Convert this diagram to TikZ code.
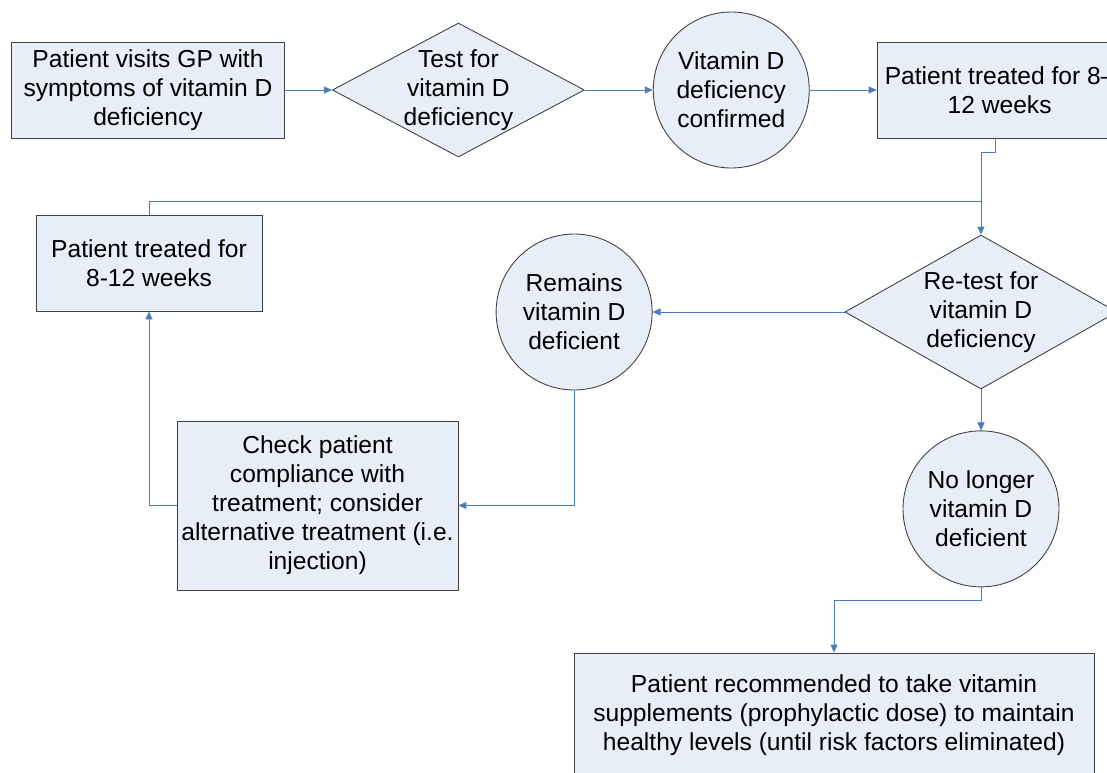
\documentclass[tikz,border=0pt]{standalone}
\usepackage{fontspec}
\setmainfont{Liberation Sans}
\usetikzlibrary{arrows.meta,positioning,shapes.geometric}
\definecolor{vdfill}{RGB}{232,238,247}
\definecolor{vdline}{RGB}{74,126,187}

\begin{document}
\begin{tikzpicture}[node distance=0.94cm, >={Triangle[length=1.6mm,width=1.4mm]}, font=\fontsize{14}{16.5}\selectfont,
  box/.style={draw=black!75, line width=0.5pt, fill=vdfill, align=center, inner sep=0pt},
  decision/.style={box, diamond, aspect=1.9, inner sep=-0.1cm},
  state/.style={box, circle, minimum size=3.12cm},
  conn/.style={draw=vdline, line width=0.55pt}]
  \useasboundingbox (0,0) rectangle (22.14,-15.44);
  \node[box, minimum width=5.46cm, minimum height=1.92cm] (visit) at (2.96,-1.80) {Patient visits GP with\\symptoms of vitamin D\\deficiency};
  \node[decision, minimum width=5.04cm, minimum height=2.68cm, right=0.94cm of visit] (test) {Test for\\vitamin D\\deficiency};
  \node[state, right=1.36cm of test] (confirmed) {Vitamin D\\deficiency\\confirmed};
  \node[box, minimum width=4.9cm, minimum height=1.92cm, right=1.34cm of confirmed] (treatA) {Patient treated for 8--\\12 weeks};
  \node[decision, minimum width=5.44cm, minimum height=3.08cm] (retest) at (19.62,-6.24) {Re-test for\\vitamin D\\deficiency};
  \node[state, left=3.84cm of retest] (remains) {Remains\\vitamin D\\deficient};
  \node[box, minimum width=4.52cm, minimum height=1.92cm] (treatB) at (2.98,-5.26) {Patient treated for\\8-12 weeks};
  \node[box, minimum width=5.62cm, minimum height=3.38cm] (check) at (6.35,-10.11) {Check patient\\compliance with\\treatment; consider\\alternative treatment (i.e.\\injection)};
  \node[state, below=0.82cm of retest] (nolonger) {No longer\\vitamin D\\deficient};
  \node[box, minimum width=10.4cm, minimum height=2.48cm] (recommend) at (16.68,-14.3) {Patient recommended to take vitamin\\supplements (prophylactic dose) to maintain\\healthy levels (until risk factors eliminated)};
  \coordinate (join) at (19.62,-4.02);

  \draw[conn,->] (visit) -- (test);
  \draw[conn,->] (test) -- (confirmed);
  \draw[conn,->] (confirmed) -- (treatA);
  \draw[conn,->] ([xshift=-0.09cm]treatA.south) -- ++(0,-0.28) -| (retest.north);
  \draw[conn] (treatB.north) |- (join);
  \draw[conn,->] (retest) -- (remains);
  \draw[conn,->] (remains.south) |- (check.east);
  \draw[conn,->] (check.west) -| (treatB.south);
  \draw[conn,->] (retest) -- (nolonger);
  \draw[conn,->] (nolonger.south) -- ++(0,-0.26) -| (recommend.north);
\end{tikzpicture}
\end{document}
